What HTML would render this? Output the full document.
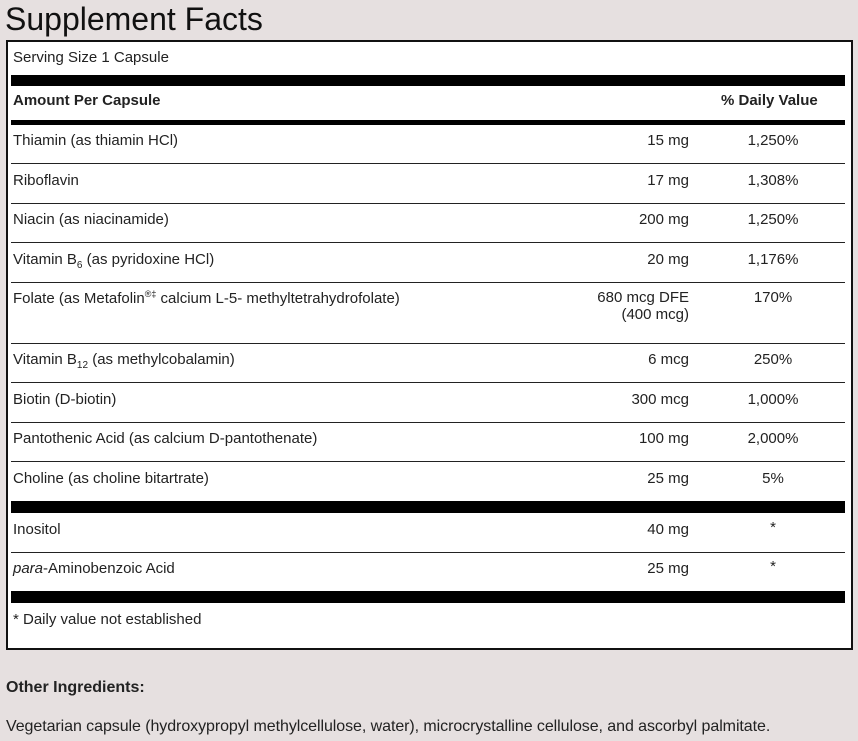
<!DOCTYPE html>
<html><head><meta charset="utf-8"><style>
body{margin:0;width:858px;height:741px;background:#e6e0e0;position:relative;overflow:hidden;font-family:"Liberation Sans",sans-serif;color:#222}
.t{position:absolute;white-space:nowrap;font-size:15px}
.box{position:absolute;left:6px;top:40px;width:843px;height:606px;border:2px solid #111;background:#fff}
.bar{position:absolute;left:11px;width:834px;background:#000}
.ln{position:absolute;left:11px;width:834px;height:1px;background:#222}
.a{position:absolute;right:169px;text-align:right;white-space:nowrap;font-size:15px}
.d{position:absolute;left:733px;width:80px;text-align:center;font-size:15px}
</style></head><body>
<div style="position:absolute;left:5px;top:1px;font-size:32px;color:#111">Supplement Facts</div>
<div class="box"></div>
<div class="t" style="left:13px;top:49px">Serving Size 1 Capsule</div>
<div class="bar" style="top:75px;height:11px"></div>
<div class="t" style="left:13px;top:92px;font-weight:bold">Amount Per Capsule</div>
<div class="t" style="left:721px;top:92px;font-weight:bold">% Daily Value</div>
<div class="bar" style="top:120px;height:5px"></div>

<div class="t" style="left:13px;top:132px">Thiamin (as thiamin HCl)</div><div class="a" style="top:132px">15 mg</div><div class="d" style="top:132px">1,250%</div>
<div class="ln" style="top:163px"></div>
<div class="t" style="left:13px;top:172px">Riboflavin</div><div class="a" style="top:172px">17 mg</div><div class="d" style="top:172px">1,308%</div>
<div class="ln" style="top:203px"></div>
<div class="t" style="left:13px;top:211px">Niacin (as niacinamide)</div><div class="a" style="top:211px">200 mg</div><div class="d" style="top:211px">1,250%</div>
<div class="ln" style="top:242px"></div>
<div class="t" style="left:13px;top:251px">Vitamin B<sub style="font-size:10px">6</sub> (as pyridoxine HCl)</div><div class="a" style="top:251px">20 mg</div><div class="d" style="top:251px">1,176%</div>
<div class="ln" style="top:282px"></div>
<div class="t" style="left:13px;top:289px">Folate (as Metafolin<sup style="font-size:9px">®‡</sup> calcium L-5- methyltetrahydrofolate)</div><div class="a" style="top:289px">680 mcg DFE<br>(400 mcg)</div><div class="d" style="top:289px">170%</div>
<div class="ln" style="top:343px"></div>
<div class="t" style="left:13px;top:351px">Vitamin B<sub style="font-size:10px">12</sub> (as methylcobalamin)</div><div class="a" style="top:351px">6 mcg</div><div class="d" style="top:351px">250%</div>
<div class="ln" style="top:382px"></div>
<div class="t" style="left:13px;top:391px">Biotin (D-biotin)</div><div class="a" style="top:391px">300 mcg</div><div class="d" style="top:391px">1,000%</div>
<div class="ln" style="top:422px"></div>
<div class="t" style="left:13px;top:430px">Pantothenic Acid (as calcium D-pantothenate)</div><div class="a" style="top:430px">100 mg</div><div class="d" style="top:430px">2,000%</div>
<div class="ln" style="top:461px"></div>
<div class="t" style="left:13px;top:470px">Choline (as choline bitartrate)</div><div class="a" style="top:470px">25 mg</div><div class="d" style="top:470px">5%</div>
<div class="bar" style="top:501px;height:12px"></div>
<div class="t" style="left:13px;top:521px">Inositol</div><div class="a" style="top:521px">40 mg</div><div class="d" style="top:519px">*</div>
<div class="ln" style="top:552px"></div>
<div class="t" style="left:13px;top:560px"><i>para</i>-Aminobenzoic Acid</div><div class="a" style="top:560px">25 mg</div><div class="d" style="top:558px">*</div>
<div class="bar" style="top:591px;height:12px"></div>
<div class="t" style="left:13px;top:611px">* Daily value not established</div>
<div class="t" style="left:6px;top:679px;font-weight:bold;font-size:16px">Other Ingredients:</div>
<div class="t" style="left:6px;top:718px;font-size:16px;letter-spacing:-0.07px">Vegetarian capsule (hydroxypropyl methylcellulose, water), microcrystalline cellulose, and ascorbyl palmitate.</div>
</body></html>
